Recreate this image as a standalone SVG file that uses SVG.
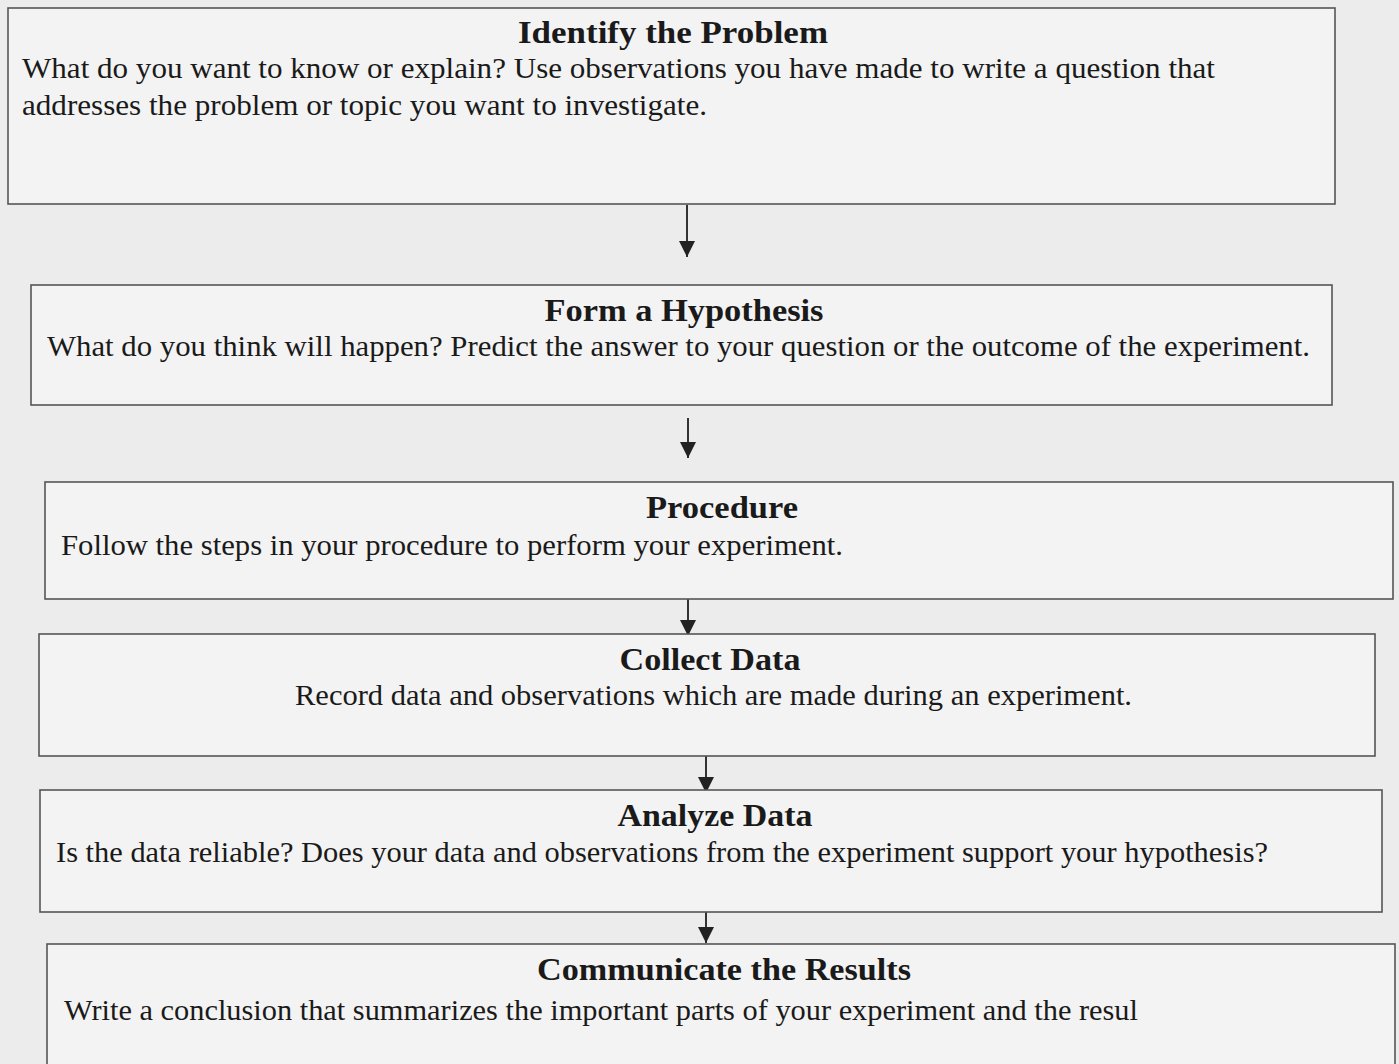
<svg xmlns="http://www.w3.org/2000/svg" width="1399" height="1064" viewBox="0 0 1399 1064">
<style>
.box{fill:#f3f3f3;stroke:#555;stroke-width:1.6}
.t{font-family:"Liberation Serif","Times New Roman",serif;font-weight:bold;font-size:32px;fill:#1a1a1a;text-anchor:middle}
.b{font-family:"Liberation Serif","Times New Roman",serif;font-size:29.5px;fill:#1a1a1a}
.c{stroke:#333;stroke-width:2;fill:none}
</style>
<defs>
<marker id="ah" viewBox="0 0 10 10" refX="10" refY="5" markerWidth="16" markerHeight="16" markerUnits="userSpaceOnUse" orient="auto">
<path d="M0,0 L10,5 L0,10 z" fill="#222"/>
</marker>
</defs>
<rect width="1399" height="1064" fill="#ececec"/>
<g id="connectors">
<line class="c" x1="687" y1="205" x2="687" y2="257" marker-end="url(#ah)"/>
<line class="c" x1="688" y1="418" x2="688" y2="458" marker-end="url(#ah)"/>
<line class="c" x1="688" y1="598" x2="688" y2="636" marker-end="url(#ah)"/>
<line class="c" x1="706" y1="755" x2="706" y2="793" marker-end="url(#ah)"/>
<line class="c" x1="706" y1="905" x2="706" y2="943" marker-end="url(#ah)"/>
</g>
<g id="identify">
<rect class="box" x="8" y="8" width="1327" height="196"/>
<text class="t" x="673" y="43" textLength="310" lengthAdjust="spacingAndGlyphs">Identify the Problem</text>
<text class="b" x="22" y="78" textLength="1193" lengthAdjust="spacingAndGlyphs">What do you want to know or explain? Use observations you have made to write a question that</text>
<text class="b" x="22" y="115" textLength="685" lengthAdjust="spacingAndGlyphs">addresses the problem or topic you want to investigate.</text>
</g>
<g id="hypothesis">
<rect class="box" x="31" y="285" width="1301" height="120"/>
<text class="t" x="684" y="321" textLength="279" lengthAdjust="spacingAndGlyphs">Form a Hypothesis</text>
<text class="b" x="47" y="356" textLength="1263" lengthAdjust="spacingAndGlyphs">What do you think will happen? Predict the answer to your question or the outcome of the experiment.</text>
</g>
<g id="procedure">
<rect class="box" x="45" y="482" width="1348" height="117"/>
<text class="t" x="722" y="518" textLength="152" lengthAdjust="spacingAndGlyphs">Procedure</text>
<text class="b" x="61" y="555" textLength="782" lengthAdjust="spacingAndGlyphs">Follow the steps in your procedure to perform your experiment.</text>
</g>
<g id="collect">
<rect class="box" x="39" y="634" width="1336" height="122"/>
<text class="t" x="710" y="670" textLength="181" lengthAdjust="spacingAndGlyphs">Collect Data</text>
<text class="b" x="295" y="705" textLength="837" lengthAdjust="spacingAndGlyphs">Record data and observations which are made during an experiment.</text>
</g>
<g id="analyze">
<rect class="box" x="40" y="790" width="1342" height="122"/>
<text class="t" x="715" y="826" textLength="195" lengthAdjust="spacingAndGlyphs">Analyze Data</text>
<text class="b" x="56" y="862" textLength="1212" lengthAdjust="spacingAndGlyphs">Is the data reliable? Does your data and observations from the experiment support your hypothesis?</text>
</g>
<g id="communicate">
<rect class="box" x="47" y="944" width="1348" height="130"/>
<text class="t" x="724" y="980" textLength="374" lengthAdjust="spacingAndGlyphs">Communicate the Results</text>
<text class="b" x="64" y="1020" textLength="1074" lengthAdjust="spacingAndGlyphs">Write a conclusion that summarizes the important parts of your experiment and the resul</text>
</g>
</svg>
